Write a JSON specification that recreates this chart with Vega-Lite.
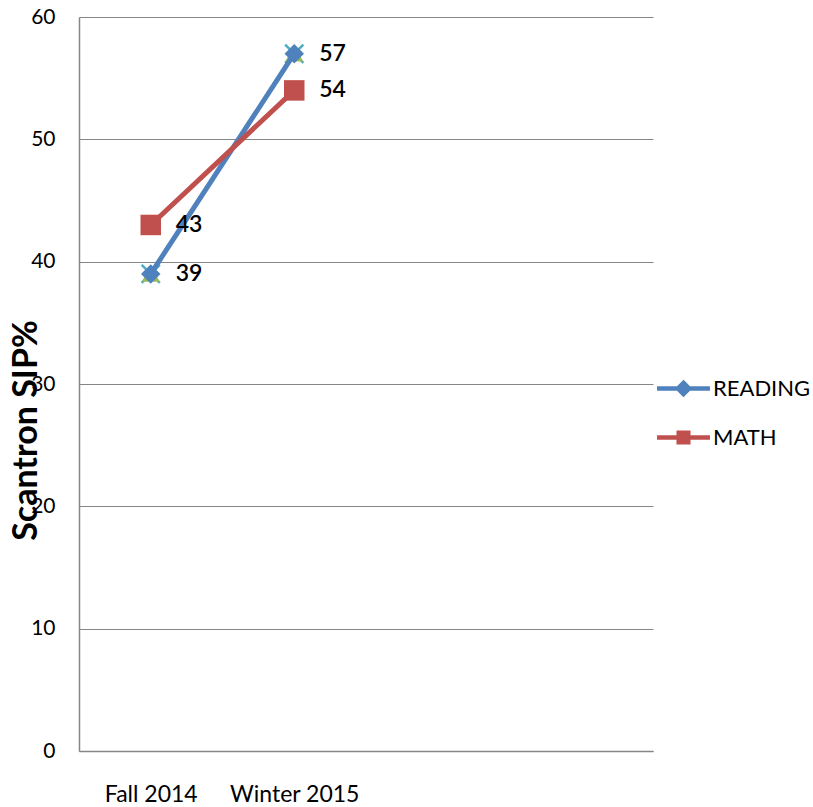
{
  "$schema": "https://vega.github.io/schema/vega-lite/v6.json",
  "width": 574,
  "height": 734,
  "autosize": {"type": "none"},
  "padding": {"left": 79, "top": 17, "right": 160, "bottom": 56},
  "background": "white",
  "config": {
    "view": {"stroke": null},
    "font": "Lato",
    "axis": {"labelFont": "Lato", "titleFont": "Lato"},
    "legend": {"labelFont": "Lato"}
  },
  "data": {
    "values": [
      {"period": "Fall 2014", "series": "READING", "value": 39},
      {"period": "Winter 2015", "series": "READING", "value": 57},
      {"period": "Fall 2014", "series": "MATH", "value": 43},
      {"period": "Winter 2015", "series": "MATH", "value": 54},
      {"period": "Fall 2014", "series": "S3", "value": 39},
      {"period": "Winter 2015", "series": "S3", "value": 57},
      {"period": "Fall 2014", "series": "S4", "value": 39},
      {"period": "Winter 2015", "series": "S4", "value": 57}
    ]
  },
  "encoding": {
    "x": {
      "field": "period",
      "type": "nominal",
      "sort": null,
      "scale": {"type": "point", "domain": ["Fall 2014", "Winter 2015", "P3", "P4"], "padding": 0.5},
      "axis": {
        "title": null,
        "labelAngle": 0,
        "labelExpr": "datum.value == 'Fall 2014' || datum.value == 'Winter 2015' ? datum.value : ''",
        "labelFontSize": 23,
        "labelColor": "#000000",
        "labelPadding": 32,
        "ticks": false,
        "grid": false,
        "domainColor": "#868686",
        "domainWidth": 1.5
      }
    },
    "y": {
      "field": "value",
      "type": "quantitative",
      "scale": {"domain": [0, 60], "nice": false},
      "axis": {
        "title": "Scantron SIP%",
        "titleFontSize": 34,
        "titleFontWeight": "bold",
        "titleColor": "#000000",
        "titleAngle": -90,
        "titleBaseline": "alphabetic",
        "titleAlign": "center",
        "titleX": -43,
        "titleY": 413,
        "values": [0, 10, 20, 30, 40, 50, 60],
        "labelFontSize": 21,
        "labelColor": "#000000",
        "labelPadding": 24,
        "ticks": false,
        "gridColor": "#868686",
        "gridWidth": 1.2,
        "domainColor": "#868686",
        "domainWidth": 1.5
      }
    },
    "color": {
      "field": "series",
      "type": "nominal",
      "scale": {
        "domain": ["READING", "MATH", "S3", "S4"],
        "range": ["#4F81BD", "#C0504D", "#9BBB59", "#4BACC6"]
      },
      "legend": {
        "values": ["READING", "MATH"],
        "title": null,
        "orient": "none",
        "legendX": 589,
        "legendY": 356,
        "labelFontSize": 22,
        "labelColor": "#000000",
        "labelOffset": 14,
        "rowPadding": 18,
        "symbolSize": 700,
        "symbolStrokeWidth": 4,
        "encode": {
          "symbols": {
            "update": {
              "shape": {"signal": "datum.value == 'READING' ? 'M-2,0H2M0,-0.42L0.42,0L0,0.42L-0.42,0Z' : 'M-2,0H2M-0.36,-0.36H0.36V0.36H-0.36Z'"},
              "fill": {"scale": "color", "field": "value"},
              "stroke": {"scale": "color", "field": "value"},
              "strokeWidth": {"value": 4.5}
            }
          }
        }
      }
    }
  },
  "layer": [
    {
      "transform": [{"filter": "datum.series == 'S4'"}],
      "mark": {"type": "point", "shape": "M-1,-1L1,1M-1,1L1,-1", "filled": false, "size": 330, "strokeWidth": 2.5, "opacity": 1}
    },
    {
      "transform": [{"filter": "datum.series == 'S3'"}],
      "mark": {"type": "point", "shape": "triangle-up", "filled": true, "size": 330, "opacity": 1}
    },
    {
      "transform": [{"filter": "datum.series == 'READING'"}],
      "mark": {"type": "line", "strokeWidth": 5}
    },
    {
      "transform": [{"filter": "datum.series == 'READING'"}],
      "mark": {"type": "point", "shape": "diamond", "filled": true, "size": 380, "opacity": 1}
    },
    {
      "transform": [{"filter": "datum.series == 'MATH'"}],
      "mark": {"type": "line", "strokeWidth": 5}
    },
    {
      "transform": [{"filter": "datum.series == 'MATH'"}],
      "mark": {"type": "point", "shape": "square", "filled": true, "size": 420, "opacity": 1}
    },
    {
      "transform": [{"filter": "datum.series == 'READING' || datum.series == 'MATH'"}],
      "mark": {"type": "text", "align": "left", "baseline": "middle", "dx": 25, "fontSize": 23, "font": "Lato", "fontWeight": 600, "color": "#000000"},
      "encoding": {
        "text": {"field": "value", "type": "quantitative"},
        "color": {"value": "#000000"}
      }
    }
  ]
}
